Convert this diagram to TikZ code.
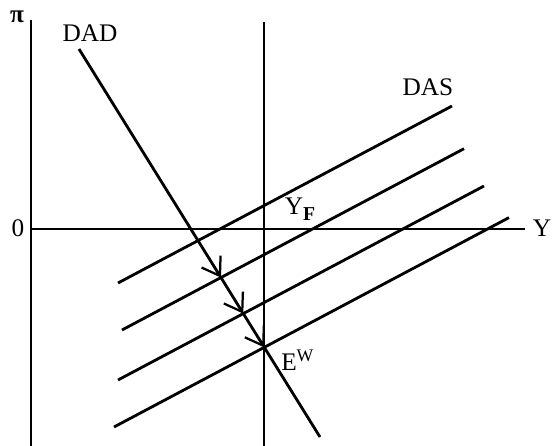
\documentclass[tikz,border=0pt]{standalone}
\usepackage{fontspec}
\setmainfont{Liberation Serif}
\usetikzlibrary{arrows.meta}
\tikzset{
  axis/.style={line width=1.3pt},
  curve/.style={line width=2pt},
  barbed/.style={curve,-{Straight Barb[length=0.42cm,width=0.56cm,line width=1.6pt]}},
  lbl/.style={font=\fontsize{18}{20}\selectfont, inner sep=0pt}
}
\begin{document}
\begin{tikzpicture}[x=0.025cm,y=-0.025cm]
\useasboundingbox (0,0) rectangle (552,446);
% axes
\coordinate (otop) at (31,20);
\coordinate (obot) at (31,446);
\coordinate (o) at (31,229);
\coordinate (yend) at (525,229);
\coordinate (ftop) at (264,22);
\coordinate (fbot) at (264,446);
\draw[axis] (otop)--(obot);
\draw[axis] (o)--(yend);
\draw[line width=1pt] (ftop)--(fbot);
\node[lbl] (pi) at (17,17) {\textbf{π}};
\node[lbl] (zero) at (18,228) {0};
\node[lbl] (yaxis) at (542,228) {Y};
\node[lbl] (yf) at (300,209) {Y\raisebox{-0.5ex}{\fontsize{14}{16}\selectfont\textbf{F}}};

% DAS curves
\coordinate (das1a) at (118,283);
\coordinate (das1b) at (452,106);
\coordinate (das2a) at (122,330);
\coordinate (das2b) at (464,148.7);
\coordinate (das3a) at (118,380);
\coordinate (das3b) at (484,186);
\coordinate (das4a) at (114,427);
\coordinate (das4b) at (509,217.6);
\draw[curve] (das1a)--(das1b);
\draw[curve] (das2a)--(das2b);
\draw[curve] (das3a)--(das3b);
\draw[curve] (das4a)--(das4b);
\node[lbl] (das) at (428,87) {DAS};

% DAD curve
\coordinate (dadtop) at (79,49);
\coordinate (dadbot) at (320,437);
\coordinate (e1) at (198,240.6);
\coordinate (e2) at (221,277.6);
\coordinate (e3) at (243.3,313.6);
\coordinate (ew) at (264.3,347.4);
\draw[curve] (dadtop)--(e1);
\draw[barbed] (e1)--(e2);
\draw[barbed] (e2)--(e3);
\draw[barbed] (e3)--(ew);
\draw[curve] (ew)--(dadbot);
\node[lbl] (dad) at (90,33) {DAD};
\node[lbl,anchor=west] (ewlbl) at (281,360) {E\textsuperscript{W}};
\end{tikzpicture}
\end{document}
